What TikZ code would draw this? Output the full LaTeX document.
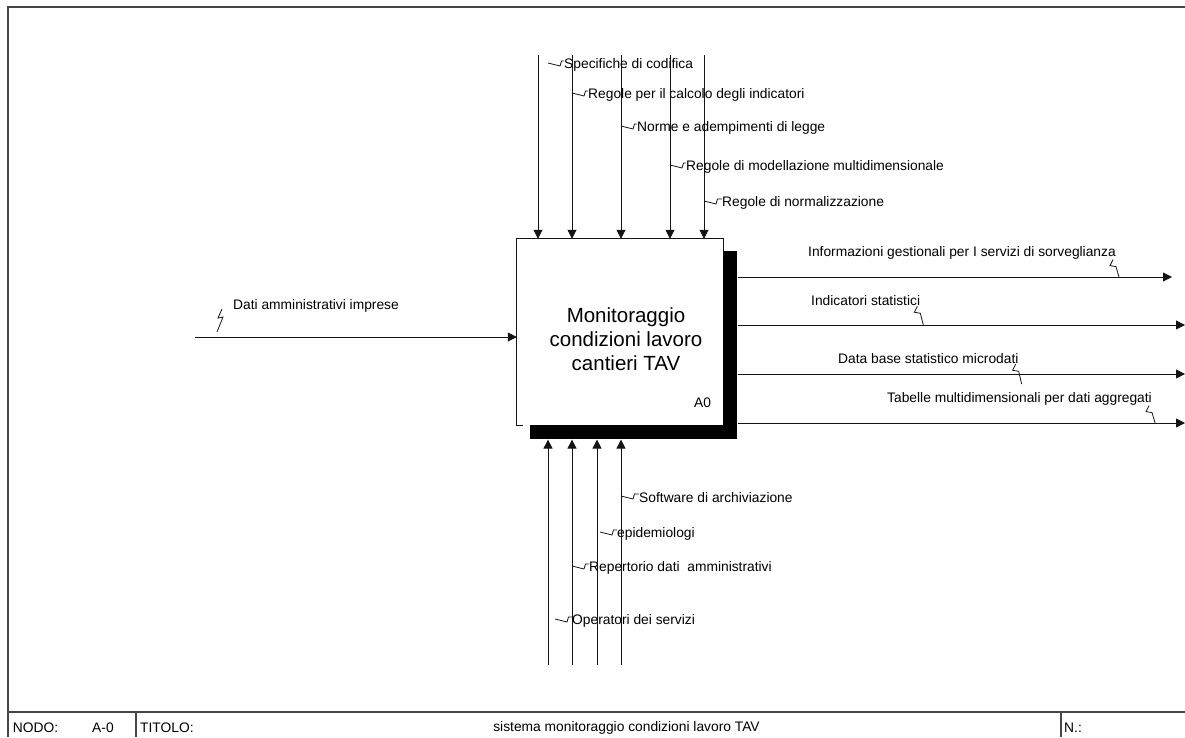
\documentclass[tikz,border=0pt]{standalone}
\usepackage{fontspec}
\setmainfont{Liberation Sans}
\usepackage{xcolor}
\usepackage{tikz}
\usetikzlibrary{arrows.meta,positioning,calc}
\definecolor{idedge}{RGB}{20,20,20}
\definecolor{idfrm}{RGB}{70,70,70}
\tikzset{
  lbl/.style={font=\fontsize{13.8}{16}\selectfont, inner sep=0pt, anchor=west},
  acttxt/.style={font=\fontsize{20.5}{24}\selectfont, align=center, inner sep=0pt},
  actbox/.style={minimum width=206pt, minimum height=186pt, inner sep=0pt},
  shd/.style={fill=black, draw=none, inner sep=0pt, anchor=north west},
  boxln/.style={draw=idedge, line width=0.9pt},
  arr/.style={-{Triangle[length=9pt,width=9pt]}, draw=idedge, line width=0.8pt},
  squig/.style={draw=idedge, line width=0.8pt,
    to path={++(0,-2) -- ++(12,3) -- ++(1.5,-5) -- ($(\tikztotarget)+(0,-4)$)}},
  squigv/.style={draw=idedge, line width=0.8pt,
    to path={-- ++(-3,6) -- ++(6,1) -- (\tikztotarget)}},
  frm/.style={draw=idfrm, line width=1.2pt}
}
\begin{document}
\begin{tikzpicture}[x=1pt, y=-1pt]
  \useasboundingbox (0,0) rectangle (1185,737);

  % frame and title block
  \draw[frm] (1185,7) -- (8,7) -- (8,737);
  \draw[frm] (8,712) -- (1185,712);
  \draw[frm] (136,712) -- (136,737);
  \draw[frm] (1061,712) -- (1061,737);
  \node[lbl] (fnodo) at (12.7,728) {NODO:};
  \node[lbl] (fa0) at (92,728) {A-0};
  \node[lbl] (ftit) at (140,728) {TITOLO:};
  \node[lbl, anchor=center] (fname) at (626.5,728) {sistema monitoraggio condizioni lavoro TAV};
  \node[lbl] (fn) at (1064,728) {N.:};

  % activity box
  \node[actbox] (act) at (620,332) {};
  \draw[boxln] ([xshift=6pt]act.south west) -- (act.south west) -- (act.north west)
    -- (act.north east) -- (act.south east);
  \node[shd, minimum width=14pt, minimum height=188pt] (shr) at ([yshift=-12pt]act.north east) {};
  \node[shd, minimum width=207pt, minimum height=14pt] (shb) at ([xshift=13pt]act.south west) {};
  \node[acttxt] (actlbl) at ([xshift=6pt,yshift=-7pt]act.center)
    {Monitoraggio\\condizioni lavoro\\cantieri TAV};
  \node[lbl, anchor=east] (aid) at ([xshift=-12pt,yshift=22pt]act.south east) {A0};

  % controls
  \coordinate (c1) at (538,55);
  \coordinate (c2) at (572,55);
  \coordinate (c3) at (621,55);
  \coordinate (c4) at (670,55);
  \coordinate (c5) at (704,55);
  \foreach \i in {1,...,5}
    \draw[arr] (c\i) -- (c\i |- act.north);
  \node[lbl] (k1) at (564,65) {Specifiche di codifica};
  \node[lbl] (k2) at (588,95) {Regole per il calcolo degli indicatori};
  \node[lbl] (k3) at (637,128) {Norme e adempimenti di legge};
  \node[lbl] (k4) at (686,167) {Regole di modellazione multidimensionale};
  \node[lbl] (k5) at (722,203) {Regole di normalizzazione};
  \draw[squig] ([xshift=10pt]c1 |- k1.west) to (k1.west);
  \draw[squig] (c2 |- k2.west) to (k2.west);
  \draw[squig] (c3 |- k3.west) to (k3.west);
  \draw[squig] (c4 |- k4.west) to (k4.west);
  \draw[squig] (c5 |- k5.west) to (k5.west);

  % input
  \coordinate (i1) at (195,337);
  \draw[arr] (i1) -- (i1 -| act.west);
  \node[lbl] (v1) at (233,306) {Dati amministrativi imprese};
  \draw[draw=idedge, line width=0.8pt] ([xshift=-11pt,yshift=-3pt]v1.west)
    -- ++(-4,9) -- ++(5,-1) -- ++(-6,15);

  % outputs
  \coordinate (o1) at (1172,277);
  \coordinate (o2) at (1185,325);
  \coordinate (o3) at (1185,374);
  \coordinate (o4) at (1185,423);
  \foreach \i in {1,...,4}
    \draw[arr] (shr.east |- o\i) -- (o\i);
  \node[lbl] (u1) at (808,253) {Informazioni gestionali per I servizi di sorveglianza};
  \node[lbl] (u2) at (811,301) {Indicatori statistici};
  \node[lbl] (u3) at (838,359) {Data base statistico microdati};
  \node[lbl] (u4) at (887,399) {Tabelle multidimensionali per dati aggregati};
  \draw[squigv] ([xshift=-3pt]u1.south east) to ([xshift=3pt]u1.south east |- o1);
  \draw[squigv] ([xshift=-3pt]u2.south east) to ([xshift=3pt]u2.south east |- o2);
  \draw[squigv] ([xshift=-3pt]u3.south east) to ([xshift=3pt,yshift=-10pt]u3.south east |- o3);
  \draw[squigv] ([xshift=-3pt]u4.south east) to ([xshift=3pt]u4.south east |- o4);

  % mechanisms
  \coordinate (m1) at (548,665);
  \coordinate (m2) at (572,665);
  \coordinate (m3) at (597,665);
  \coordinate (m4) at (621,665);
  \foreach \i in {1,...,4}
    \draw[arr] (m\i) -- (m\i |- shb.south);
  \node[lbl] (s1) at (639,498) {Software di archiviazione};
  \node[lbl] (s2) at (617,534) {epidemiologi};
  \node[lbl] (s3) at (589,568) {Repertorio dati\ \ amministrativi};
  \node[lbl] (s4) at (572,621) {Operatori dei servizi};
  \draw[squig] (m4 |- s1.west) to (s1.west);
  \draw[squig] ([xshift=3pt]m3 |- s2.west) to (s2.west);
  \draw[squig] (m2 |- s3.west) to (s3.west);
  \draw[squig] ([xshift=7pt]m1 |- s4.west) to (s4.west);
\end{tikzpicture}
\end{document}
